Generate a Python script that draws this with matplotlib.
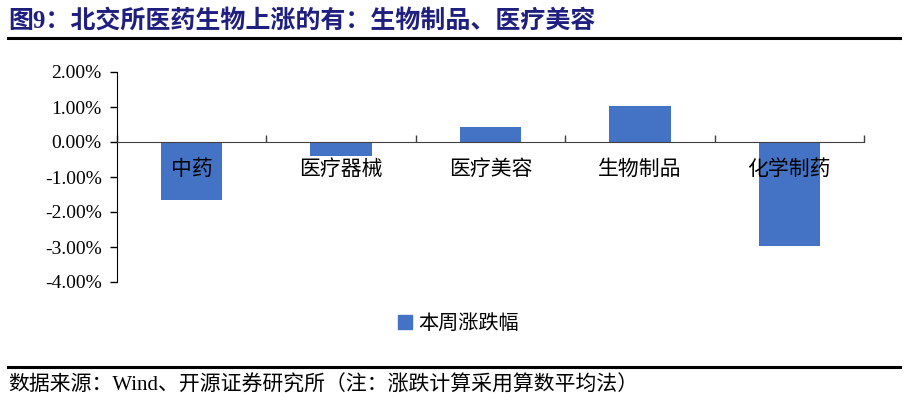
import numpy as np
import matplotlib.pyplot as plt
from matplotlib.lines import Line2D
from matplotlib.patches import Patch

plt.rcParams['font.family'] = ['Liberation Serif', 'Noto Sans CJK SC']

# data (weekly change, %)
categories = ['中药', '医疗器械', '医疗美容', '生物制品', '化学制药']
weekly_change = [-1.66, -0.40, 0.42, 1.04, -2.98]
series_name = '本周涨跌幅'
yticks = [2, 1, 0, -1, -2, -3, -4]

title = '图9：北交所医药生物上涨的有：生物制品、医疗美容'
source = '数据来源：Wind、开源证券研究所（注：涨跌计算采用算数平均法）'

bar_color = '#4472C4'
cjk = ['Liberation Serif', 'Noto Sans CJK SC']

fig = plt.figure(figsize=(9.07, 4.0), dpi=100)
ax = fig.add_axes([0.129, 0.295, 0.8236, 0.525])

x = np.arange(len(categories))
ax.bar(x, weekly_change, width=0.41, color=bar_color, zorder=2)

ax.set_xlim(-0.5, len(categories) - 0.5)
ax.set_ylim(-4, 2)
ax.set_yticks(yticks)
ax.set_yticklabels(['%.2f%%' % v for v in yticks], fontsize=14,
                   family='Liberation Serif')
ax.tick_params(axis='y', direction='out', length=5, width=1, pad=6)

# category axis sits on the zero line, ticks at the boundaries
ax.spines['top'].set_visible(False)
ax.spines['right'].set_visible(False)
ax.spines['bottom'].set_position(('data', 0))
ax.spines['bottom'].set_color('#404040')
ax.spines['bottom'].set_zorder(3)
ax.set_xticks([])
ax.set_xticks(np.arange(len(categories) + 1) - 0.5, minor=True)
ax.tick_params(axis='x', which='minor', direction='in', length=5,
               width=1, color='#404040', labelbottom=False)

for xi, name in zip(x, categories):
    ax.annotate(name, (xi, 0), xytext=(0, -20), textcoords='offset points',
                ha='center', va='center', fontsize=15, family=cjk,
                zorder=4)

leg = fig.legend(handles=[Patch(color=bar_color, label=series_name)],
                 loc='center', bbox_to_anchor=(0.505, 0.188), frameon=False,
                 prop={'family': cjk, 'size': 14.5}, handlelength=0.7,
                 handleheight=0.7, handletextpad=0.3)

fig.text(0.009, 0.948, title, fontsize=18, fontweight='bold',
         color='#1F1F80', family=['Liberation Serif', 'Noto Sans CJK SC'],
         va='center', ha='left')
fig.add_artist(Line2D([0.009, 0.992], [0.905, 0.905], color='black', lw=2.2))
fig.add_artist(Line2D([0.009, 0.992], [0.0825, 0.0825], color='black', lw=2.2))
fig.text(0.009, 0.037, source, fontsize=15, family=cjk, va='center', ha='left')

fig.savefig('out.png', dpi=100)
